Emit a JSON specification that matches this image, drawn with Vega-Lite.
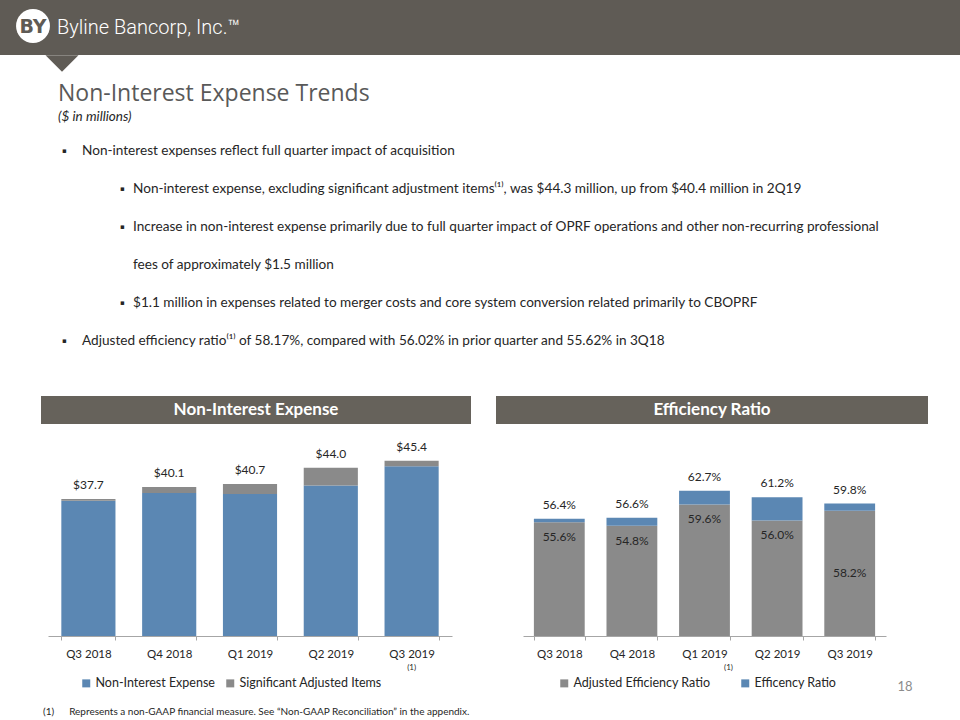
{
  "$schema": "https://vega.github.io/schema/vega-lite/v6.json",
  "background": "white",
  "padding": 0,
  "spacing": 10,
  "config": {
    "view": {"stroke": null},
    "font": "Lato",
    "concat": {"spacing": 0},
    "axis": {"labelFont": "Lato", "titleFont": "Lato"},
    "legend": {"labelFont": "Lato"},
    "title": {"font": "Lato"}
  },
  "datasets": {
    "expense": [
      {"quarter": "Q3 2018", "series": "Non-Interest Expense", "value": 37.3},
      {"quarter": "Q3 2018", "series": "Significant Adjusted Items", "value": 0.4},
      {"quarter": "Q4 2018", "series": "Non-Interest Expense", "value": 38.9},
      {"quarter": "Q4 2018", "series": "Significant Adjusted Items", "value": 1.2},
      {"quarter": "Q1 2019", "series": "Non-Interest Expense", "value": 38.7},
      {"quarter": "Q1 2019", "series": "Significant Adjusted Items", "value": 2.0},
      {"quarter": "Q2 2019", "series": "Non-Interest Expense", "value": 40.4},
      {"quarter": "Q2 2019", "series": "Significant Adjusted Items", "value": 3.6},
      {"quarter": "Q3 2019", "series": "Non-Interest Expense", "value": 44.3},
      {"quarter": "Q3 2019", "series": "Significant Adjusted Items", "value": 1.1}
    ],
    "expenseTotal": [
      {"quarter": "Q3 2018", "total": 37.7},
      {"quarter": "Q4 2018", "total": 40.1},
      {"quarter": "Q1 2019", "total": 40.7},
      {"quarter": "Q2 2019", "total": 44.0},
      {"quarter": "Q3 2019", "total": 45.4, "note": "(1)"}
    ],
    "ratio": [
      {"quarter": "Q3 2018", "series": "Adjusted Efficiency Ratio", "value": 0.556},
      {"quarter": "Q3 2018", "series": "Efficency Ratio", "value": 0.008},
      {"quarter": "Q4 2018", "series": "Adjusted Efficiency Ratio", "value": 0.548},
      {"quarter": "Q4 2018", "series": "Efficency Ratio", "value": 0.018},
      {"quarter": "Q1 2019", "series": "Adjusted Efficiency Ratio", "value": 0.596},
      {"quarter": "Q1 2019", "series": "Efficency Ratio", "value": 0.031},
      {"quarter": "Q2 2019", "series": "Adjusted Efficiency Ratio", "value": 0.560},
      {"quarter": "Q2 2019", "series": "Efficency Ratio", "value": 0.052},
      {"quarter": "Q3 2019", "series": "Adjusted Efficiency Ratio", "value": 0.582},
      {"quarter": "Q3 2019", "series": "Efficency Ratio", "value": 0.016}
    ],
    "ratioLabels": [
      {"quarter": "Q3 2018", "total": 0.564, "adjusted": 0.556},
      {"quarter": "Q4 2018", "total": 0.566, "adjusted": 0.548},
      {"quarter": "Q1 2019", "total": 0.627, "adjusted": 0.596, "note": "(1)"},
      {"quarter": "Q2 2019", "total": 0.612, "adjusted": 0.560},
      {"quarter": "Q3 2019", "total": 0.598, "adjusted": 0.582}
    ],
    "bullets": [
      {"line": "L1", "level": "main", "bullet": "\u25aa", "text": "Non-interest expenses reflect full quarter impact of acquisition"},
      {"line": "L2", "level": "sub", "bullet": "\u25aa", "text": "Non-interest expense, excluding significant adjustment items\u207d\u00b9\u207e, was $44.3 million, up from $40.4 million in 2Q19"},
      {"line": "L3", "level": "sub", "bullet": "\u25aa", "text": "Increase in non-interest expense primarily due to full quarter impact of OPRF operations and other non-recurring professional"},
      {"line": "L4", "level": "sub", "bullet": "", "text": "fees of approximately $1.5 million"},
      {"line": "L5", "level": "sub", "bullet": "\u25aa", "text": "$1.1 million in expenses related to merger costs and core system conversion related primarily to CBOPRF"},
      {"line": "L6", "level": "main", "bullet": "\u25aa", "text": "Adjusted efficiency ratio\u207d\u00b9\u207e of 58.17%, compared with 56.02% in prior quarter and 55.62% in 3Q18"}
    ]
  },
  "title": {
    "text": "(1)\u2003\u2003Represents a non-GAAP financial measure. See \u201cNon-GAAP Reconciliation\u201d in the appendix.",
    "orient": "bottom", "anchor": "start", "frame": "group", "dx": 43, "offset": 13,
    "fontSize": 10, "fontWeight": "normal", "color": "#262626"
  },
  "vconcat": [
    {
      "width": 960,
      "height": 55,
      "view": {"fill": "#5f5b55", "stroke": null},
      "data": {"values": [{"company": "Byline Bancorp, Inc.\u2122", "logo": "BY"}]},
      "layer": [
        {"mark": {"type": "point", "shape": "M-1,-0.5L1,-0.5L0,0.5Z", "filled": true, "color": "#5f5b55", "opacity": 1, "size": 1089, "x": 62, "y": 63.5}, "encoding": {}},
        {"mark": {"type": "point", "shape": "circle", "filled": true, "color": "white", "opacity": 1, "size": 1150, "x": 33, "y": 26}, "encoding": {}},
        {"mark": {"type": "text", "x": 33, "y": 27, "fontSize": 19, "fontWeight": "bold", "color": "#5f5b55", "font": "DejaVu Sans"}, "encoding": {"text": {"field": "logo"}}},
        {"mark": {"type": "text", "x": 57, "y": 28, "align": "left", "fontSize": 20, "fontWeight": 300, "color": "white", "font": "Roboto"}, "encoding": {"text": {"field": "company"}}}
      ]
    },
    {
      "spacing": 36,
      "vconcat": [
        {
          "title": {
            "text": "Non-Interest Expense Trends",
            "subtitle": "($ in millions)",
            "anchor": "start", "frame": "group", "dx": 58, "offset": 9,
            "font": "Open Sans", "fontSize": 23, "fontWeight": "normal", "color": "#595959",
            "subtitleFont": "Lato", "subtitleFontStyle": "italic", "subtitleFontSize": 13.5, "subtitleColor": "#262626", "subtitlePadding": 4
          },
          "width": 920,
          "height": 228,
          "data": {"name": "bullets"},
          "encoding": {
            "y": {"field": "line", "type": "ordinal", "sort": null, "scale": {"type": "point", "padding": 0.5}, "axis": null},
            "x": {"field": "level", "type": "nominal", "sort": null, "scale": {"type": "point", "domain": ["main", "sub"], "range": [62, 120], "padding": 0}, "axis": null}
          },
          "layer": [
            {"mark": {"type": "text", "align": "left", "baseline": "middle", "fontSize": 7, "font": "DejaVu Sans", "color": "#262626"}, "encoding": {"text": {"field": "bullet"}}},
            {"transform": [{"filter": "datum.level === 'main'"}], "mark": {"type": "text", "align": "left", "baseline": "middle", "dx": 20, "fontSize": 13.6, "color": "#262626"}, "encoding": {"text": {"field": "text"}}},
            {"transform": [{"filter": "datum.level === 'sub'"}], "mark": {"type": "text", "align": "left", "baseline": "middle", "dx": 13, "fontSize": 13.6, "color": "#262626"}, "encoding": {"text": {"field": "text"}}}
          ]
        },
        {
          "spacing": 14,
          "vconcat": [
            {
              "spacing": 0,
              "hconcat": [
                {"width": 41, "height": 28, "data": {"values": [{}]}, "mark": {"type": "text", "text": ""}},
                {
                  "width": 430,
                  "height": 28,
                  "view": {"fill": "#66625b", "stroke": null},
                  "data": {"values": [{"label": "Non-Interest Expense"}]},
                  "mark": {"type": "text", "color": "white", "fontSize": 17, "fontWeight": "bold", "font": "Lato"},
                  "encoding": {"text": {"field": "label"}}
                },
                {"width": 25, "height": 28, "data": {"values": [{}]}, "mark": {"type": "text", "text": ""}},
                {
                  "width": 432,
                  "height": 28,
                  "view": {"fill": "#66625b", "stroke": null},
                  "data": {"values": [{"label": "Efficiency Ratio"}]},
                  "mark": {"type": "text", "color": "white", "fontSize": 17, "fontWeight": "bold", "font": "Lato"},
                  "encoding": {"text": {"field": "label"}}
                }
              ]
            },
            {
              "spacing": 0,
              "resolve": {"scale": {"color": "independent"}, "legend": {"color": "independent"}},
              "hconcat": [
                {"width": 48, "height": 198, "data": {"values": [{}]}, "mark": {"type": "text", "text": ""}},
                {
                  "width": 404,
                  "height": 198,
                  "layer": [
                    {
                      "data": {"name": "expense"},
                      "mark": {"type": "bar", "clip": true},
                      "encoding": {
                        "x": {
                          "field": "quarter", "type": "ordinal", "sort": null,
                          "scale": {"paddingInner": 0.33, "paddingOuter": 0.165},
                          "axis": {"title": null, "labelAngle": 0, "tickBand": "extent", "tickSize": 4, "tickColor": "#a6a6a6", "domainColor": "#a6a6a6", "labelFontSize": 11.5, "labelColor": "#262626", "labelPadding": 8}
                        },
                        "y": {"field": "value", "type": "quantitative", "stack": "zero",
                              "scale": {"domain": [10, 50], "nice": false, "zero": false},
                              "axis": null},
                        "color": {"field": "series", "type": "nominal",
                                  "scale": {"domain": ["Non-Interest Expense", "Significant Adjusted Items"], "range": ["#5b87b3", "#8a8a8a"]},
                                  "legend": {"orient": "none", "legendX": 32, "legendY": 239, "direction": "horizontal", "title": null, "padding": 0, "symbolType": "square", "symbolSize": 64, "symbolStrokeWidth": 0, "labelOffset": 3, "labelFontSize": 12.5, "labelColor": "#262626", "columnPadding": 9}},
                        "order": {"field": "series", "sort": "ascending"}
                      }
                    },
                    {
                      "data": {"name": "expenseTotal"},
                      "mark": {"type": "text", "dy": -7, "baseline": "bottom", "fontSize": 12, "color": "#262626"},
                      "encoding": {
                        "x": {"field": "quarter", "type": "ordinal", "sort": null},
                        "y": {"field": "total", "type": "quantitative"},
                        "text": {"field": "total", "type": "quantitative", "format": "$.1f"}
                      }
                    },
                    {
                      "data": {"name": "expenseTotal"},
                      "transform": [{"filter": "isValid(datum.note)"}],
                      "mark": {"type": "text", "y": "height", "dy": 32, "fontSize": 8, "color": "#262626"},
                      "encoding": {
                        "x": {"field": "quarter", "type": "ordinal", "sort": null},
                        "text": {"field": "note"}
                      }
                    }
                  ]
                },
                {"width": 71, "height": 198, "data": {"values": [{}]}, "mark": {"type": "text", "text": ""}},
                {
                  "width": 363,
                  "height": 198,
                  "layer": [
                    {
                      "data": {"name": "ratio"},
                      "mark": {"type": "bar", "clip": true},
                      "encoding": {
                        "x": {
                          "field": "quarter", "type": "ordinal", "sort": null,
                          "scale": {"paddingInner": 0.3, "paddingOuter": 0.15},
                          "axis": {"title": null, "labelAngle": 0, "tickBand": "extent", "tickSize": 4, "tickColor": "#a6a6a6", "domainColor": "#a6a6a6", "labelFontSize": 11.5, "labelColor": "#262626", "labelPadding": 8}
                        },
                        "y": {"field": "value", "type": "quantitative", "stack": "zero",
                              "scale": {"domain": [0.30, 0.7455], "nice": false, "zero": false},
                              "axis": null},
                        "color": {"field": "series", "type": "nominal",
                                  "scale": {"domain": ["Adjusted Efficiency Ratio", "Efficency Ratio"], "range": ["#8a8a8a", "#5b87b3"]},
                                  "legend": {"orient": "none", "legendX": 35, "legendY": 239, "direction": "horizontal", "title": null, "padding": 0, "symbolType": "square", "symbolSize": 64, "symbolStrokeWidth": 0, "labelOffset": 3, "labelFontSize": 12.5, "labelColor": "#262626", "columnPadding": 28}},
                        "order": {"field": "series", "sort": "ascending"}
                      }
                    },
                    {
                      "data": {"name": "ratioLabels"},
                      "mark": {"type": "text", "dy": -7, "baseline": "bottom", "fontSize": 12, "color": "#262626"},
                      "encoding": {
                        "x": {"field": "quarter", "type": "ordinal", "sort": null},
                        "y": {"field": "total", "type": "quantitative"},
                        "text": {"field": "total", "type": "quantitative", "format": ".1%"}
                      }
                    },
                    {
                      "data": {"name": "ratioLabels"},
                      "transform": [{"filter": "datum.quarter !== 'Q3 2019'"}],
                      "mark": {"type": "text", "baseline": "middle", "dy": 15, "fontSize": 12, "color": "#262626"},
                      "encoding": {
                        "x": {"field": "quarter", "type": "ordinal", "sort": null},
                        "y": {"field": "adjusted", "type": "quantitative"},
                        "text": {"field": "adjusted", "type": "quantitative", "format": ".1%"}
                      }
                    },
                    {
                      "data": {"name": "ratioLabels"},
                      "transform": [{"filter": "datum.quarter === 'Q3 2019'"}],
                      "mark": {"type": "text", "baseline": "middle", "dy": 62, "fontSize": 12, "color": "#262626"},
                      "encoding": {
                        "x": {"field": "quarter", "type": "ordinal", "sort": null},
                        "y": {"field": "adjusted", "type": "quantitative"},
                        "text": {"field": "adjusted", "type": "quantitative", "format": ".1%"}
                      }
                    },
                    {
                      "data": {"name": "ratioLabels"},
                      "transform": [{"filter": "isValid(datum.note)"}],
                      "mark": {"type": "text", "y": "height", "dy": 32, "dx": 24, "fontSize": 8, "color": "#262626"},
                      "encoding": {
                        "x": {"field": "quarter", "type": "ordinal", "sort": null},
                        "text": {"field": "note"}
                      }
                    },
                    {
                      "data": {"values": [{"page": "18"}]},
                      "mark": {"type": "text", "x": "width", "dx": 19, "y": "height", "dy": 51, "fontSize": 13, "color": "#8c8c8c"},
                      "encoding": {"text": {"field": "page"}}
                    }
                  ]
                }
              ]
            }
          ]
        }
      ]
    }
  ]
}
